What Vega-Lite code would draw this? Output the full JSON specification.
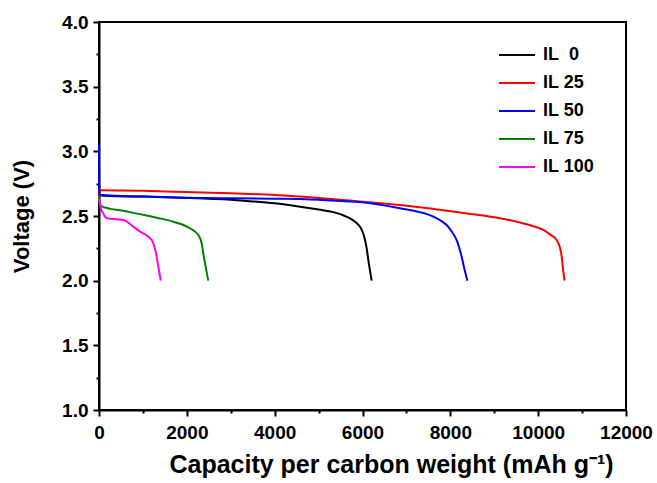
{
  "$schema": "https://vega.github.io/schema/vega-lite/v6.json",
  "autosize": "none",
  "padding": {"left": 99, "top": 22, "right": 31, "bottom": 73},
  "width": 527,
  "height": 388,
  "background": "white",
  "config": {
    "view": {"stroke": "black", "strokeWidth": 2},
    "font": "Liberation Sans",
    "axis": {
      "grid": false,
      "domainColor": "black",
      "domainWidth": 2,
      "tickColor": "black",
      "tickWidth": 2,
      "labelFont": "Liberation Sans",
      "labelFontSize": 19,
      "labelFontWeight": "bold",
      "labelColor": "black",
      "titleFont": "Liberation Sans",
      "titleFontSize": 22,
      "titleFontWeight": "bold",
      "titleColor": "black",
      "labelOverlap": false,
      "labelFlush": false
    }
  },
  "data": {
    "values": [
      {"series": "IL 0", "cap": 0, "v": 2.66},
      {"series": "IL 0", "cap": 200, "v": 2.655},
      {"series": "IL 0", "cap": 1000, "v": 2.65},
      {"series": "IL 0", "cap": 2000, "v": 2.64},
      {"series": "IL 0", "cap": 3000, "v": 2.625},
      {"series": "IL 0", "cap": 3500, "v": 2.613},
      {"series": "IL 0", "cap": 4000, "v": 2.598},
      {"series": "IL 0", "cap": 4577, "v": 2.572},
      {"series": "IL 0", "cap": 5000, "v": 2.55},
      {"series": "IL 0", "cap": 5335, "v": 2.53},
      {"series": "IL 0", "cap": 5600, "v": 2.5},
      {"series": "IL 0", "cap": 5715, "v": 2.482},
      {"series": "IL 0", "cap": 5850, "v": 2.45},
      {"series": "IL 0", "cap": 5943, "v": 2.417},
      {"series": "IL 0", "cap": 6000, "v": 2.38},
      {"series": "IL 0", "cap": 6057, "v": 2.314},
      {"series": "IL 0", "cap": 6100, "v": 2.24},
      {"series": "IL 0", "cap": 6132, "v": 2.16},
      {"series": "IL 0", "cap": 6170, "v": 2.08},
      {"series": "IL 0", "cap": 6209, "v": 2.0},
      {"series": "IL 25", "cap": 0, "v": 2.62},
      {"series": "IL 25", "cap": 10, "v": 2.69},
      {"series": "IL 25", "cap": 50, "v": 2.7},
      {"series": "IL 25", "cap": 1000, "v": 2.695},
      {"series": "IL 25", "cap": 2000, "v": 2.685},
      {"series": "IL 25", "cap": 3000, "v": 2.675},
      {"series": "IL 25", "cap": 4000, "v": 2.663},
      {"series": "IL 25", "cap": 4577, "v": 2.65},
      {"series": "IL 25", "cap": 5500, "v": 2.625},
      {"series": "IL 25", "cap": 6854, "v": 2.585},
      {"series": "IL 25", "cap": 7500, "v": 2.56},
      {"series": "IL 25", "cap": 8372, "v": 2.52},
      {"series": "IL 25", "cap": 9000, "v": 2.49},
      {"series": "IL 25", "cap": 9511, "v": 2.456},
      {"series": "IL 25", "cap": 9800, "v": 2.43},
      {"series": "IL 25", "cap": 10118, "v": 2.392},
      {"series": "IL 25", "cap": 10300, "v": 2.35},
      {"series": "IL 25", "cap": 10422, "v": 2.314},
      {"series": "IL 25", "cap": 10500, "v": 2.25},
      {"series": "IL 25", "cap": 10536, "v": 2.185},
      {"series": "IL 25", "cap": 10570, "v": 2.08},
      {"series": "IL 25", "cap": 10600, "v": 2.0},
      {"series": "IL 50", "cap": 0, "v": 3.05},
      {"series": "IL 50", "cap": 5, "v": 2.7},
      {"series": "IL 50", "cap": 20, "v": 2.665},
      {"series": "IL 50", "cap": 500, "v": 2.655},
      {"series": "IL 50", "cap": 1000, "v": 2.65},
      {"series": "IL 50", "cap": 2000, "v": 2.642},
      {"series": "IL 50", "cap": 3000, "v": 2.637},
      {"series": "IL 50", "cap": 4000, "v": 2.633},
      {"series": "IL 50", "cap": 4577, "v": 2.631},
      {"series": "IL 50", "cap": 5300, "v": 2.62},
      {"series": "IL 50", "cap": 6095, "v": 2.603},
      {"series": "IL 50", "cap": 6854, "v": 2.56},
      {"series": "IL 50", "cap": 7300, "v": 2.53},
      {"series": "IL 50", "cap": 7613, "v": 2.495},
      {"series": "IL 50", "cap": 7800, "v": 2.46},
      {"series": "IL 50", "cap": 7917, "v": 2.43},
      {"series": "IL 50", "cap": 8050, "v": 2.37},
      {"series": "IL 50", "cap": 8144, "v": 2.314},
      {"series": "IL 50", "cap": 8258, "v": 2.185},
      {"series": "IL 50", "cap": 8320, "v": 2.09},
      {"series": "IL 50", "cap": 8390, "v": 2.0},
      {"series": "IL 75", "cap": 0, "v": 2.65},
      {"series": "IL 75", "cap": 20, "v": 2.6},
      {"series": "IL 75", "cap": 60, "v": 2.575},
      {"series": "IL 75", "cap": 547, "v": 2.54},
      {"series": "IL 75", "cap": 1000, "v": 2.51},
      {"series": "IL 75", "cap": 1314, "v": 2.487},
      {"series": "IL 75", "cap": 1692, "v": 2.456},
      {"series": "IL 75", "cap": 2072, "v": 2.405},
      {"series": "IL 75", "cap": 2262, "v": 2.353},
      {"series": "IL 75", "cap": 2338, "v": 2.289},
      {"series": "IL 75", "cap": 2380, "v": 2.2},
      {"series": "IL 75", "cap": 2414, "v": 2.134},
      {"series": "IL 75", "cap": 2460, "v": 2.05},
      {"series": "IL 75", "cap": 2489, "v": 2.0},
      {"series": "IL 100", "cap": 0, "v": 2.63},
      {"series": "IL 100", "cap": 40, "v": 2.56},
      {"series": "IL 100", "cap": 98, "v": 2.52},
      {"series": "IL 100", "cap": 175, "v": 2.482},
      {"series": "IL 100", "cap": 555, "v": 2.469},
      {"series": "IL 100", "cap": 783, "v": 2.417},
      {"series": "IL 100", "cap": 934, "v": 2.379},
      {"series": "IL 100", "cap": 1123, "v": 2.34},
      {"series": "IL 100", "cap": 1237, "v": 2.289},
      {"series": "IL 100", "cap": 1280, "v": 2.24},
      {"series": "IL 100", "cap": 1314, "v": 2.185},
      {"series": "IL 100", "cap": 1360, "v": 2.09},
      {"series": "IL 100", "cap": 1405, "v": 2.0}
    ]
  },
  "resolve": {"axis": {"x": "independent", "y": "independent"}},
  "layer": [
    {
      "mark": {"type": "line", "strokeWidth": 2, "interpolate": "monotone"},
      "encoding": {
        "x": {
          "field": "cap",
          "type": "quantitative",
          "scale": {"domain": [0, 12000], "nice": false, "zero": false},
          "axis": {
            "orient": "bottom",
            "title": "Capacity per carbon weight (mAh g⁻¹)",
            "titleFontSize": 25,
            "titleX": 292,
            "titleAnchor": "middle",
            "values": [0, 2000, 4000, 6000, 8000, 10000, 12000],
            "format": "d",
            "tickSize": 6,
            "labelPadding": 7,
            "titlePadding": 10
          }
        },
        "y": {
          "field": "v",
          "type": "quantitative",
          "scale": {"domain": [1, 4], "nice": false, "zero": false},
          "axis": {
            "orient": "left",
            "title": "Voltage (V)",
            "values": [1, 1.5, 2, 2.5, 3, 3.5, 4],
            "format": ".1f",
            "tickSize": 6,
            "labelPadding": 5,
            "titlePadding": 28
          }
        },
        "color": {
          "field": "series",
          "type": "nominal",
          "sort": ["IL 0", "IL 25", "IL 50", "IL 75", "IL 100"],
          "scale": {
            "domain": ["IL 0", "IL 25", "IL 50", "IL 75", "IL 100"],
            "range": ["#000000", "#FF0000", "#0000FF", "#008000", "#FF00FF"]
          },
          "legend": {
            "title": null,
            "orient": "none",
            "legendX": 399,
            "legendY": 14,
            "symbolType": "stroke",
            "symbolSize": 1296,
            "symbolStrokeWidth": 2,
            "labelFont": "Liberation Sans",
            "labelFontSize": 18,
            "labelFontWeight": "bold",
            "labelColor": "black",
            "labelOffset": 7,
            "rowPadding": 0,
            "padding": 0,
            "labelExpr": "datum.label === 'IL 0' ? 'IL\u00a0\u00a00' : datum.label"
          }
        }
      }
    },
    {
      "mark": {"type": "line", "strokeWidth": 2, "opacity": 0},
      "encoding": {
        "x": {
          "field": "cap",
          "type": "quantitative",
          "scale": {"domain": [0, 12000], "nice": false, "zero": false},
          "axis": {
            "orient": "bottom",
            "title": null,
            "values": [1000, 3000, 5000, 7000, 9000, 11000],
            "labels": false,
            "domain": false,
            "tickSize": 3
          }
        },
        "y": {
          "field": "v",
          "type": "quantitative",
          "scale": {"domain": [1, 4], "nice": false, "zero": false},
          "axis": {
            "orient": "left",
            "title": null,
            "values": [1.25, 1.75, 2.25, 2.75, 3.25, 3.75],
            "labels": false,
            "domain": false,
            "tickSize": 3
          }
        },
        "detail": {"field": "series", "type": "nominal"}
      }
    }
  ]
}
